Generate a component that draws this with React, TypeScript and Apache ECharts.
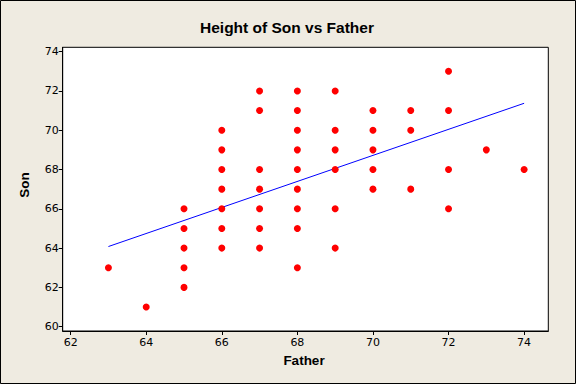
import React, { useEffect, useRef } from "react";
import * as echarts from "echarts";

const chartTitle = "Height of Son vs Father";
const xName = "Father";
const yName = "Son";
const fatherHeights = [
  63, 64,
  65, 65, 65, 65, 65,
  66, 66, 66, 66, 66, 66, 66,
  67, 67, 67, 67, 67, 67, 67,
  68, 68, 68, 68, 68, 68, 68, 68, 68,
  69, 69, 69, 69, 69, 69,
  70, 70, 70, 70, 70,
  71, 71, 71,
  72, 72, 72, 72,
  73, 74,
];
const sonHeights = [
  63, 61,
  66, 65, 64, 63, 62,
  70, 69, 68, 67, 66, 65, 64,
  72, 71, 68, 67, 66, 65, 64,
  72, 71, 70, 69, 68, 67, 66, 65, 63,
  72, 70, 69, 68, 66, 64,
  71, 70, 69, 68, 67,
  71, 70, 67,
  73, 71, 68, 66,
  69, 68,
];
const fitLine = [
  [63, 64.08],
  [74, 71.37],
];
const xTicks = [62, 64, 66, 68, 70, 72, 74];
const yTicks = [60, 62, 64, 66, 68, 70, 72, 74];

const FONT = "DejaVu Sans";
const BOLD_FONT = "Liberation Sans";

export default function App() {
  const ref = useRef<HTMLDivElement>(null);
  useEffect(() => {
    if (!ref.current) return;
    const chart = echarts.init(ref.current, null, { renderer: "svg" });
    const points = fatherHeights.map((f, i) => [f, sonHeights[i]]);
    chart.setOption({
      animation: false,
      backgroundColor: "#EFEBE1",
      textStyle: { fontFamily: FONT },
      graphic: [
        {
          type: "rect",
          shape: { x: 0.5, y: 0.5, width: 575, height: 383 },
          style: { fill: "none", stroke: "#000", lineWidth: 1 },
          silent: true,
        },
        {
          type: "text",
          x: 287,
          y: 27,
          style: {
            text: chartTitle,
            fontFamily: BOLD_FONT,
            fontSize: 15.5,
            fontWeight: "bold",
            fill: "#000",
            align: "center",
            verticalAlign: "middle",
          },
        },
        {
          type: "text",
          x: 304,
          y: 360,
          style: {
            text: xName,
            fontFamily: BOLD_FONT,
            fontSize: 13.5,
            fontWeight: "bold",
            fill: "#000",
            align: "center",
            verticalAlign: "middle",
          },
        },
        {
          type: "text",
          x: 24,
          y: 185,
          rotation: Math.PI / 2,
          style: {
            text: yName,
            fontFamily: BOLD_FONT,
            fontSize: 13.5,
            fontWeight: "bold",
            fill: "#000",
            align: "center",
            verticalAlign: "middle",
          },
        },
      ],
      grid: {
        left: 62.7,
        top: 47.3,
        right: 27.7,
        bottom: 53,
        show: true,
        backgroundColor: "#fff",
        borderColor: "#000",
        borderWidth: 1,
      },
      xAxis: {
        type: "value",
        min: 61.79,
        max: 74.64,
        splitLine: { show: false },
        axisLine: { show: true, lineStyle: { color: "#000" } },
        axisTick: { show: true, length: 4, customValues: xTicks, lineStyle: { color: "#000" } },
        axisLabel: { customValues: xTicks, color: "#000", fontSize: 11, fontFamily: FONT, margin: 6 },
      },
      yAxis: {
        type: "value",
        min: 59.78,
        max: 74.22,
        splitLine: { show: false },
        axisLine: { show: true, lineStyle: { color: "#000" } },
        axisTick: { show: true, length: 4, customValues: yTicks, lineStyle: { color: "#000" } },
        axisLabel: { customValues: yTicks, color: "#000", fontSize: 11, fontFamily: FONT, margin: 4 },
      },
      series: [
        {
          type: "scatter",
          data: points,
          symbol: "circle",
          symbolSize: 7,
          itemStyle: { color: "#FF0000", opacity: 1 },
          z: 3,
        },
        {
          type: "line",
          data: fitLine,
          showSymbol: false,
          symbol: "none",
          lineStyle: { color: "#0000FF", width: 1 },
          z: 2,
        },
      ],
    });
    return () => chart.dispose();
  }, []);
  return (
    <div
      ref={ref}
      style={{ position: "absolute", left: 0, top: 0, width: 576, height: 384 }}
    />
  );
}
